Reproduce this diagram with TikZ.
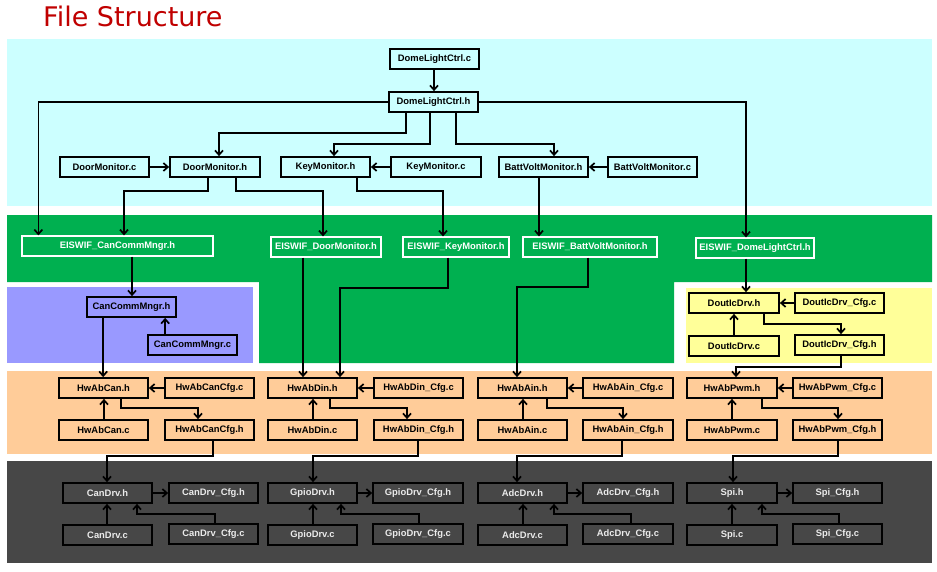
\documentclass[tikz,border=0pt]{standalone}
\usepackage{fontspec}
\setmainfont{Liberation Sans}
\newfontfamily\titlefont{DejaVu Sans}
\usetikzlibrary{arrows.meta}
\definecolor{bgcyan}{HTML}{CCFFFF}
\definecolor{bggreen}{HTML}{00B050}
\definecolor{bgblue}{HTML}{9999FF}
\definecolor{bgyellow}{HTML}{FFFF99}
\definecolor{bgorange}{HTML}{FFCC99}
\definecolor{bggray}{HTML}{474747}
\definecolor{titlered}{HTML}{C00000}
\begin{document}
\begin{tikzpicture}[x=1pt,y=-1pt,
  box/.style={draw=black, line width=1.7pt, minimum width=89pt, minimum height=20pt, inner sep=0pt, font=\bfseries\fontsize{9.4}{10}\selectfont},
  even/.style={minimum width=90pt},
  cbox/.style={box, fill=bgcyan},
  gbox/.style={box, draw=white, fill=bggreen, text=white, line width=1.3pt},
  bbox/.style={box, fill=bgblue},
  ybox/.style={box, fill=bgyellow},
  obox/.style={box, fill=bgorange},
  dbox/.style={box, fill=bggray, text=white!92!black},
  arr/.style={line width=1.7pt, -{Straight Barb[length=4.5pt,width=8pt]}}]
\useasboundingbox (0,0) rectangle (937,571);
% backgrounds
\fill[bgcyan] (7,39) rectangle (932,206);
\fill[bggreen] (7,215) -- (932,215) -- (932,282) -- (674,282) -- (674,363) -- (259,363) -- (259,282) -- (7,282) -- cycle;
\fill[bgblue] (7,287) rectangle (253,363);
\fill[bgyellow] (686,288) rectangle (932,363);
\fill[bgorange] (7,371) rectangle (932,454);
\fill[bggray] (7,461) rectangle (932,563);
% title
\node[anchor=base west, inner sep=0pt, text=titlered, font=\titlefont\fontsize{27}{30}\selectfont] (title) at (43,26) {File Structure};
% cyan layer
\node[cbox] (dlc) at (434.5,59) {DomeLightCtrl.c};
\node[cbox] (dlh) at (433.5,102) {DomeLightCtrl.h};
\node[cbox] (dmc) at (104.5,167) {DoorMonitor.c};
\node[cbox, even] (dmh) at (215,167) {DoorMonitor.h};
\node[cbox] (kmh) at (325.5,167) {KeyMonitor.h};
\node[cbox, even] (kmc) at (436,167) {KeyMonitor.c};
\node[cbox] (bvh) at (543.5,167) {BattVoltMonitor.h};
\node[cbox] (bvc) at (652.5,167) {BattVoltMonitor.c};
% green layer
\node[gbox, minimum width=191pt] (ecan) at (117.5,246) {EISWIF\_CanCommMngr.h};
\node[gbox, minimum width=110pt] (edoor) at (326,247) {EISWIF\_DoorMonitor.h};
\node[gbox, minimum width=106pt] (ekey) at (456,247) {EISWIF\_KeyMonitor.h};
\node[gbox, minimum width=134pt] (ebatt) at (590,247) {EISWIF\_BattVoltMonitor.h};
\node[gbox, minimum width=118pt] (edome) at (755,248) {EISWIF\_DomeLightCtrl.h};
% blue layer
\node[bbox] (cch) at (131.5,307) {CanCommMngr.h};
\node[bbox] (ccc) at (192.5,345) {CanCommMngr.c};
% yellow layer
\node[ybox, even] (dih) at (734,303) {DoutIcDrv.h};
\node[ybox] (dicc) at (839.5,303) {DoutIcDrv\_Cfg.c};
\node[ybox, even] (dic) at (734,346) {DoutIcDrv.c};
\node[ybox] (dich) at (839.5,345) {DoutIcDrv\_Cfg.h};
% orange layer
\node[obox] (hcanh) at (103.5,388) {HwAbCan.h};
\node[obox] (hcancc) at (209.5,388) {HwAbCanCfg.c};
\node[obox] (hcanc) at (103.5,430) {HwAbCan.c};
\node[obox] (hcanch) at (209.5,430) {HwAbCanCfg.h};
\node[obox] (hdinh) at (312.5,388) {HwAbDin.h};
\node[obox] (hdincc) at (418.5,388) {HwAbDin\_Cfg.c};
\node[obox] (hdinc) at (312.5,430) {HwAbDin.c};
\node[obox] (hdinch) at (418.5,430) {HwAbDin\_Cfg.h};
\node[obox] (hainh) at (522.5,388) {HwAbAin.h};
\node[obox, even] (haincc) at (628,388) {HwAbAin\_Cfg.c};
\node[obox] (hainc) at (522.5,430) {HwAbAin.c};
\node[obox, even] (hainch) at (628,430) {HwAbAin\_Cfg.h};
\node[obox, even] (hpwmh) at (732,388) {HwAbPwm.h};
\node[obox] (hpwmcc) at (837.5,388) {HwAbPwm\_Cfg.c};
\node[obox, even] (hpwmc) at (732,430) {HwAbPwm.c};
\node[obox] (hpwmch) at (837.5,430) {HwAbPwm\_Cfg.h};
% gray layer
\node[dbox] (canh) at (107.5,493) {CanDrv.h};
\node[dbox] (canch) at (213.5,493) {CanDrv\_Cfg.h};
\node[dbox] (canc) at (107.5,535) {CanDrv.c};
\node[dbox] (cancc) at (213.5,534) {CanDrv\_Cfg.c};
\node[dbox] (gpioh) at (312.5,493) {GpioDrv.h};
\node[dbox, even] (gpioch) at (418,493) {GpioDrv\_Cfg.h};
\node[dbox] (gpioc) at (312.5,535) {GpioDrv.c};
\node[dbox, even] (gpiocc) at (418,534) {GpioDrv\_Cfg.c};
\node[dbox] (adch) at (522.5,493) {AdcDrv.h};
\node[dbox, even] (adcch) at (628,493) {AdcDrv\_Cfg.h};
\node[dbox] (adcc) at (522.5,535) {AdcDrv.c};
\node[dbox, even] (adccc) at (628,534) {AdcDrv\_Cfg.c};
\node[dbox, even] (spih) at (732,493) {Spi.h};
\node[dbox] (spich) at (837.5,493) {Spi\_Cfg.h};
\node[dbox, even] (spic) at (732,535) {Spi.c};
\node[dbox] (spicc) at (837.5,534) {Spi\_Cfg.c};
% cyan connectors
\draw[arr] ([xshift=-0.5pt]dlc.south) -- ([xshift=-0.5pt]dlc.south |- dlh.north);
\draw[arr] (dlh.west) -| ([xshift=17pt]ecan.north west);
\draw[arr] (dlh.east) -| ([xshift=-9pt]edome.north);
\draw[arr] ([xshift=18pt]dlh.south west) -- ++(0,20) -| ([xshift=4pt]dmh.north);
\draw[arr] ([xshift=42pt]dlh.south west) -- ++(0,31) -| ([xshift=8.5pt]kmh.north);
\draw[arr] ([xshift=68pt]dlh.south west) -- ++(0,31) -| ([xshift=10.5pt]bvh.north);
\draw[arr] (dmc.east) -- (dmh.west);
\draw[arr] (kmc.west) -- (kmh.east);
\draw[arr] (bvc.west) -- (bvh.east);
\draw[arr] ([xshift=39pt]dmh.south west) -- ++(0,13) -| ([xshift=6.5pt]ecan.north);
\draw[arr] ([xshift=67pt]dmh.south west) -- ++(0,13) -| ([xshift=-3pt]edoor.north);
\draw[arr] ([xshift=77pt]kmh.south west) -- ++(0,13) -| ([xshift=-13pt]ekey.north);
\draw[arr] ([xshift=-4.5pt]bvh.south) -- ([xshift=-4.5pt]bvh.south |- ebatt.north);
% green connectors
\draw[arr] ([xshift=14.5pt]ecan.south) -- ([xshift=14.5pt]ecan.south |- cch.north);
\draw[arr] ([xshift=-23pt]edoor.south) -- ([xshift=-23pt]edoor.south |- hdinh.north);
\draw[arr] ([xshift=-8pt]ekey.south) -- ++(0,30) -| ([xshift=27.5pt]hdinh.north);
\draw[arr] ([xshift=-2pt]ebatt.south) -- ++(0,29) -| ([xshift=-5.5pt]hainh.north);
\draw[arr] ([xshift=-9pt]edome.south) -- ([xshift=-9pt]edome.south |- dih.north);
% blue connectors
\draw[arr] ([xshift=17pt]cch.south west) -- ([xshift=17pt]cch.south west |- hcanh.north);
\draw[arr] ([xshift=18pt]ccc.north west) -- ([xshift=18pt]ccc.north west |- cch.south);
% yellow connectors
\draw[arr] (dicc.west) -- (dicc.west -| dih.east);
\draw[arr] (dic.north) -- (dih.south);
\draw[arr] ([xshift=30pt]dih.south) -- ++(0,10) -| ([xshift=1.5pt]dich.north);
\draw[arr] ([xshift=1.5pt]dich.south) -- ++(0,11) -| ([xshift=4pt]hpwmh.north);
% orange connectors
\draw[arr] (hcancc.west) -- (hcanh.east);
\draw[arr] ([xshift=0.5pt]hcanc.north) -- ([xshift=0.5pt]hcanh.south);
\draw[arr] ([xshift=17.5pt]hcanh.south) -- ++(0,9) -| ([xshift=-11.5pt]hcanch.north);
\draw[arr] ([xshift=3.5pt]hcanch.south) -- ++(0,15) -| ([xshift=-0.5pt]canh.north);
\draw[arr] (hdincc.west) -- (hdinh.east);
\draw[arr] ([xshift=0.5pt]hdinc.north) -- ([xshift=0.5pt]hdinh.south);
\draw[arr] ([xshift=17.5pt]hdinh.south) -- ++(0,9) -| ([xshift=-11.5pt]hdinch.north);
\draw[arr] ([xshift=-0.5pt]hdinch.south) -- ++(0,15) -| ([xshift=0.5pt]gpioh.north);
\draw[arr] (haincc.west) -- (hainh.east);
\draw[arr] ([xshift=0.5pt]hainc.north) -- ([xshift=0.5pt]hainh.south);
\draw[arr] ([xshift=24.5pt]hainh.south) -- ++(0,9) -| ([xshift=-5pt]hainch.north);
\draw[arr] ([xshift=-6pt]hainch.south) -- ++(0,15) -| ([xshift=-5.5pt]adch.north);
\draw[arr] (hpwmcc.west) -- (hpwmh.east);
\draw[arr] (hpwmc.north) -- (hpwmh.south);
\draw[arr] ([xshift=30pt]hpwmh.south) -- ++(0,9) -| ([xshift=0.5pt]hpwmch.north);
\draw[arr] ([xshift=0.5pt]hpwmch.south) -- ++(0,15) -| ([xshift=1pt]spih.north);
% gray connectors
\draw[arr] (canh.east) -- (canch.west);
\draw[arr] ([xshift=-0.5pt]canc.north) -- ([xshift=-0.5pt]canh.south);
\draw[arr] ([xshift=1.5pt]cancc.north) -- ++(0,-9) -| ([xshift=29.5pt]canh.south);
\draw[arr] (gpioh.east) -- (gpioch.west);
\draw[arr] ([xshift=0.5pt]gpioc.north) -- ([xshift=0.5pt]gpioh.south);
\draw[arr] ([xshift=1pt]gpiocc.north) -- ++(0,-9) -| ([xshift=28.5pt]gpioh.south);
\draw[arr] (adch.east) -- (adcch.west);
\draw[arr] ([xshift=0.5pt]adcc.north) -- ([xshift=0.5pt]adch.south);
\draw[arr] ([xshift=3pt]adccc.north) -- ++(0,-9) -| ([xshift=31.5pt]adch.south);
\draw[arr] (spih.east) -- (spich.west);
\draw[arr] (spic.north) -- (spih.south);
\draw[arr] ([xshift=1.5pt]spicc.north) -- ++(0,-9) -| ([xshift=30pt]spih.south);
\end{tikzpicture}
\end{document}
